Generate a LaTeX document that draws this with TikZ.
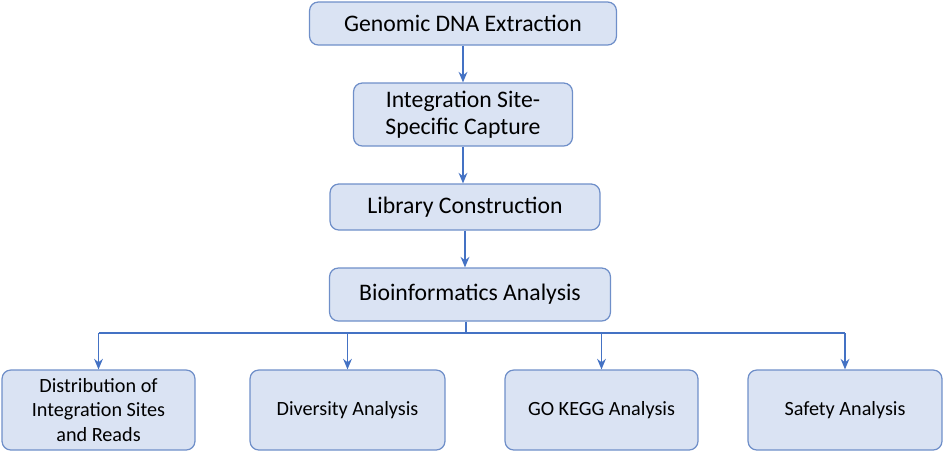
\documentclass[tikz,border=0pt]{standalone}
\usepackage{fontspec}
\setmainfont{Carlito}
\usetikzlibrary{arrows.meta, positioning}
\definecolor{boxfill}{HTML}{DAE3F3}
\definecolor{boxline}{HTML}{6F8FC9}
\definecolor{arrowblue}{HTML}{4472C4}
\tikzset{
  stepnode/.style={draw=boxline, fill=boxfill, rounded corners=5pt, line width=0.7pt,
    align=center, inner sep=2pt, font=\fontsize{13.5}{15.5}\selectfont},
  leafnode/.style={stepnode, font=\fontsize{11.5}{14}\selectfont},
  flow/.style={-{Stealth[length=6pt,width=5pt]}, draw=arrowblue, line width=0.8pt},
  link/.style={draw=arrowblue, line width=0.8pt},
}
\begin{document}
\begin{tikzpicture}[x=0.02cm,y=-0.02cm]
  \useasboundingbox (0,0) rectangle (944,461);

  \node[stepnode, minimum width=6.14cm, minimum height=0.86cm] (gdna) at (463,23.5) {Genomic DNA Extraction};
  \node[stepnode, minimum width=4.38cm, minimum height=1.26cm] (capture) at (463,114.5) {Integration Site-\\Specific Capture};
  \node[stepnode, minimum width=5.4cm, minimum height=0.92cm] (library) at (465,207) {Library Construction};
  \node[stepnode, minimum width=5.62cm, minimum height=1.06cm] (bioinfo) at (470,294.5) {Bioinformatics Analysis};

  \node[leafnode, minimum width=3.86cm, minimum height=1.6cm] (distrib) at (98.5,410) {Distribution of\\Integration Sites\\and Reads};
  \node[leafnode, minimum width=3.9cm, minimum height=1.6cm] (diversity) at (347.5,410) {Diversity Analysis};
  \node[leafnode, minimum width=3.86cm, minimum height=1.6cm] (gokegg) at (601.5,410) {GO KEGG Analysis};
  \node[leafnode, minimum width=3.88cm, minimum height=1.6cm] (safety) at (845,410) {Safety Analysis};

  \draw[flow] (gdna) -- (capture);
  \draw[flow] (capture.south) -- (capture.south |- library.north);
  \draw[flow] (library.south) -- (library.south |- bioinfo.north);

  % branch to the analyses
  \coordinate (split) at (466,333);
  \draw[link] (bioinfo.south -| split) -- (split);
  \draw[link] (distrib.north |- split) -- (safety.north |- split);
  \draw[flow] (distrib.north |- split) -- (distrib);
  \draw[flow] (diversity.north |- split) -- (diversity);
  \draw[flow] (gokegg.north |- split) -- (gokegg);
  \draw[flow] (safety.north |- split) -- (safety);
\end{tikzpicture}
\end{document}
